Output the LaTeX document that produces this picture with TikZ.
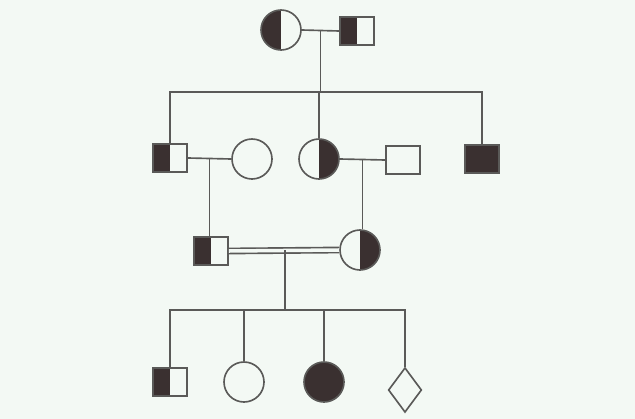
\documentclass[tikz,border=0pt]{standalone}
\usepackage{xcolor}
\usetikzlibrary{shapes.geometric}
\usetikzlibrary{calc}
\definecolor{paper}{RGB}{243,249,244}
\definecolor{ink}{RGB}{90,90,88}
\definecolor{dark}{RGB}{58,48,48}

\begin{document}
\begin{tikzpicture}[x=0.03cm,y=-0.03cm,line width=1.4pt,
  male/.style={draw=ink,rectangle,minimum width=1.02cm,minimum height=0.84cm,inner sep=0pt},
  female/.style={draw=ink,circle,minimum size=1.2cm,inner sep=0pt},
  unknown/.style={draw=ink,diamond,minimum width=1.0cm,minimum height=1.34cm,inner sep=0pt},
  affected/.style={fill=dark},
  leftcarrier/.style={path picture={\fill[dark] (path picture bounding box.south west) rectangle (path picture bounding box.north);}},
  rightcarrier/.style={path picture={\fill[dark] (path picture bounding box.south) rectangle (path picture bounding box.north east);}}]
\fill[paper] (0,0) rectangle (635,419);
\useasboundingbox (0,0) rectangle (635,419);
% generation I
\node[female,leftcarrier] (g1f) at (281,30) {};
\node[male,leftcarrier] (g1m) at (357,31) {};
% generation II
\node[male,leftcarrier] (g2a) at (170,158) {};
\node[female] (g2b) at (252,159) {};
\node[female,rightcarrier] (g2c) at (319,159) {};
\node[male] (g2d) at (403,160) {};
\node[male,affected] (g2e) at (482,159) {};
% generation III
\node[male,leftcarrier] (g3a) at (211,251) {};
\node[female,rightcarrier] (g3b) at (360,250) {};
% generation IV
\node[male,leftcarrier] (g4a) at (170,382) {};
\node[female] (g4b) at (244,382) {};
\node[female,affected] (g4c) at (324,382) {};
\node[unknown] (g4d) at (405,390) {};
% marriages
\draw[ink] (g1f.east) -- (g1m.west);
\draw[ink] (g2a.east) -- (g2b.west);
\draw[ink] (g2c.east) -- (g2d.west);
\draw[ink,double=paper,double distance=3pt] (g3a.east) -- (g3b.west);
\coordinate (m1) at ($(g1f.east)!0.5!(g1m.west)$);
\coordinate (m2) at ($(g2a.east)!0.5!(g2b.west)$);
\coordinate (m3) at ($(g2c.east)!0.5!(g2d.west)$);
\coordinate (m4) at (285,250);
\coordinate (s1) at (318,92);
\coordinate (s3) at (285,310);
% descent lines
\draw[ink] (m1) -- (m1 |- s1);
\draw[ink] (g2a.north) -- (g2a.north |- s1) -- (g2e.north |- s1) -- (g2e.north);
\draw[ink] (g2c.north) -- (g2c.north |- s1);
\draw[ink] (m2) -- (m2 |- g3a.north);
\draw[ink] (m3) -- (m3 |- g3b.north);
\draw[ink] (m4) -- (s3);
\draw[ink] (g4a.north) -- (g4a.north |- s3) -- (g4d.north |- s3) -- (g4d.north);
\draw[ink] (g4b.north) -- (g4b.north |- s3);
\draw[ink] (g4c.north) -- (g4c.north |- s3);
\end{tikzpicture}
\end{document}
